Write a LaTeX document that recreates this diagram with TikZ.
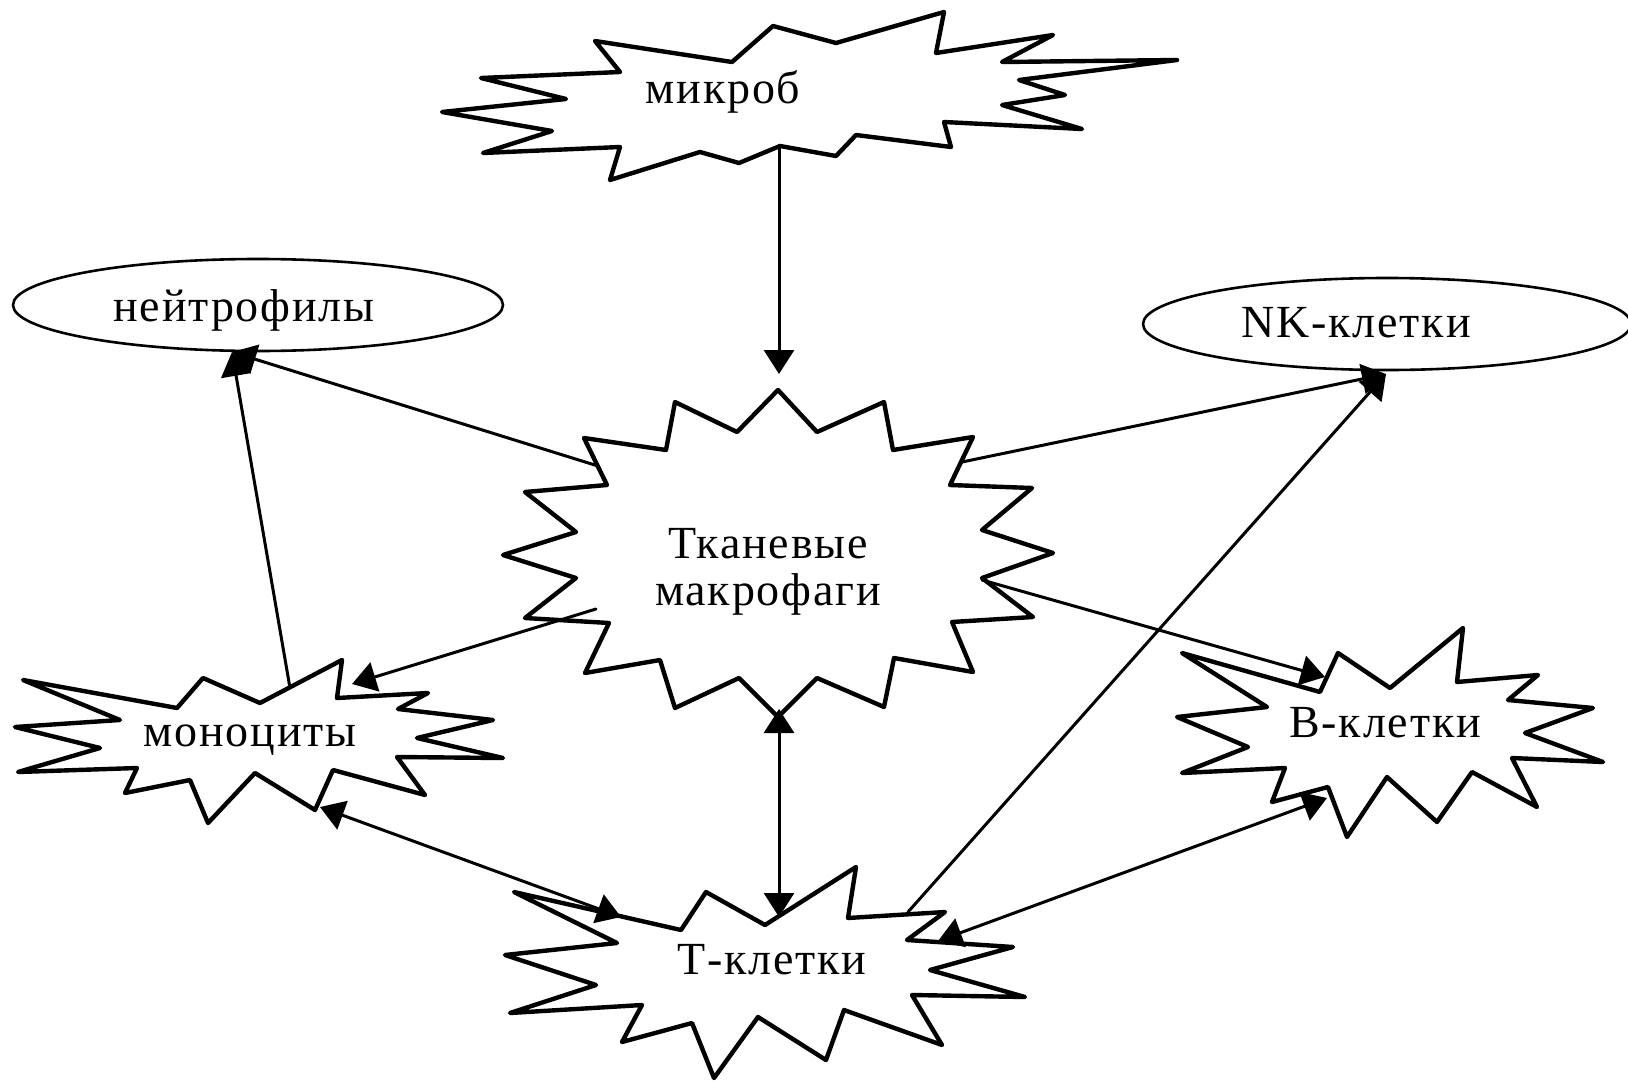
\documentclass[tikz,border=0pt]{standalone}
\usepackage{fontspec}
\setmainfont{Liberation Serif}
\usetikzlibrary{arrows.meta}

\tikzset{
  burst/.style={line width=4.4pt},
  oval/.style={line width=2.6pt},
  lnk/.style={line width=3pt,-{Triangle[length=24pt,width=30pt]}},
  lnkb/.style={line width=3pt,{Triangle[length=24pt,width=30pt]}-{Triangle[length=24pt,width=30pt]}},
  lbl/.style={font=\fontsize{46}{47}\selectfont\addfontfeatures{LetterSpace=4},align=center,inner sep=0pt}
}

\begin{document}
\begin{tikzpicture}[line cap=round,line join=round,x=1pt,y=-1pt]
\useasboundingbox (0,0) rectangle (1628,1084);

% microb
\draw[burst] (442,112)--(552,131)--(483,153)--(620,147)--(610,180)--(700,152)--(739,163)--(780,146)--(836,156)--(856,135)--(951,147)--(944,122)--(1082,129)--(1002,105)--(1065,95)--(1019,80)--(1177,60)--(1002,62)--(1053,35)--(936,53)--(944,12)--(836,43)--(773,26)--(732,62)--(595,41)--(620,72)--(481,78)--(566,99)--cycle;
% macrophages
\draw[burst] (778,390)--(817,432)--(884,402)--(893,450)--(973,437)--(950,485)--(1032,488)--(982,530)--(1053,553)--(982,578)--(1033,617)--(952,622)--(973,672)--(894,658)--(884,707)--(817,678)--(778,717)--(739,678)--(675,708)--(660,660)--(585,673)--(609,623)--(525,618)--(576,578)--(503,555)--(576,532)--(525,492)--(607,485)--(584,438)--(666,450)--(675,402)--(737,432)--cycle;
% monocytes
\draw[burst] (342,660)--(337,698)--(428,693)--(398,709)--(493,720)--(417,738)--(503,758)--(397,757)--(425,795)--(333,770)--(315,810)--(255,773)--(208,823)--(190,780)--(125,793)--(137,768)--(18,772)--(100,748)--(15,727)--(120,720)--(23,680)--(177,708)--(203,678)--(260,703)--cycle;
% B cells
\draw[burst] (1182,653)--(1320,692)--(1338,653)--(1390,688)--(1463,628)--(1457,682)--(1538,675)--(1508,700)--(1593,708)--(1525,733)--(1603,762)--(1512,758)--(1537,807)--(1472,772)--(1437,822)--(1387,777)--(1347,837)--(1328,787)--(1272,802)--(1285,768)--(1182,773)--(1248,747)--(1177,717)--(1267,707)--cycle;
% T cells
\draw[burst] (514,892)--(681,930)--(706,892)--(765,925)--(856,867)--(848,918)--(945,912)--(907,940)--(1013,947)--(930,970)--(1025,997)--(912,995)--(942,1045)--(844,1010)--(826,1060)--(758,1017)--(714,1078)--(692,1023)--(622,1042)--(642,1005)--(510,1013)--(596,985)--(505,955)--(617,943)--cycle;
% ovals
\draw[oval] (258,305) ellipse [x radius=245,y radius=46];
\draw[oval] (1387,324) ellipse [x radius=244,y radius=46];

\node[lbl] (mikrob) at (723,92) {микроб};
\node[lbl] (makrofag) at (768,572) {Тканевые\\макрофаги};
\node[lbl] (neitro) at (244,310) {нейтрофилы};
\node[lbl] (nkkl) at (1356,323) {NK-клетки};
\node[lbl] (monocit) at (250,740) {моноциты};
\node[lbl] (bkl) at (1385,723) {В-клетки};
\node[lbl] (tkl) at (772,960) {Т-клетки};

% connector ends
\coordinate (mikrob-s) at (779,146);
\coordinate (makrofag-n) at (779,374);
\coordinate (makrofag-nw) at (598,466);
\coordinate (makrofag-w) at (596,609);
\coordinate (makrofag-ne) at (962,462);
\coordinate (makrofag-e) at (982,580);
\coordinate (makrofag-s) at (779,709);
\coordinate (neitro-s) at (232,352);
\coordinate (nkkl-s) at (1386,374);
\coordinate (monocit-n) at (290,688);
\coordinate (monocit-ne) at (352,684);
\coordinate (monocit-se) at (320,807);
\coordinate (bkl-nw) at (1325,677);
\coordinate (bkl-sw) at (1327,798);
\coordinate (tkl-n) at (779,917);
\coordinate (tkl-nw) at (621,917);
\coordinate (tkl-ne) at (908,912);
\coordinate (tkl-e) at (938,941);

\draw[lnk] (mikrob-s) -- (makrofag-n);
\draw[lnk] (makrofag-nw) -- (neitro-s);
\draw[lnk] (monocit-n) -- (neitro-s);
\draw[lnk] (makrofag-ne) -- (nkkl-s);
\draw[lnk] (tkl-ne) -- (nkkl-s);
\draw[lnk] (makrofag-w) -- (monocit-ne);
\draw[lnk] (makrofag-e) -- (bkl-nw);
\draw[lnkb] (makrofag-s) -- (tkl-n);
\draw[lnkb] (monocit-se) -- (tkl-nw);
\draw[lnkb] (tkl-e) -- (bkl-sw);
\end{tikzpicture}
\end{document}
